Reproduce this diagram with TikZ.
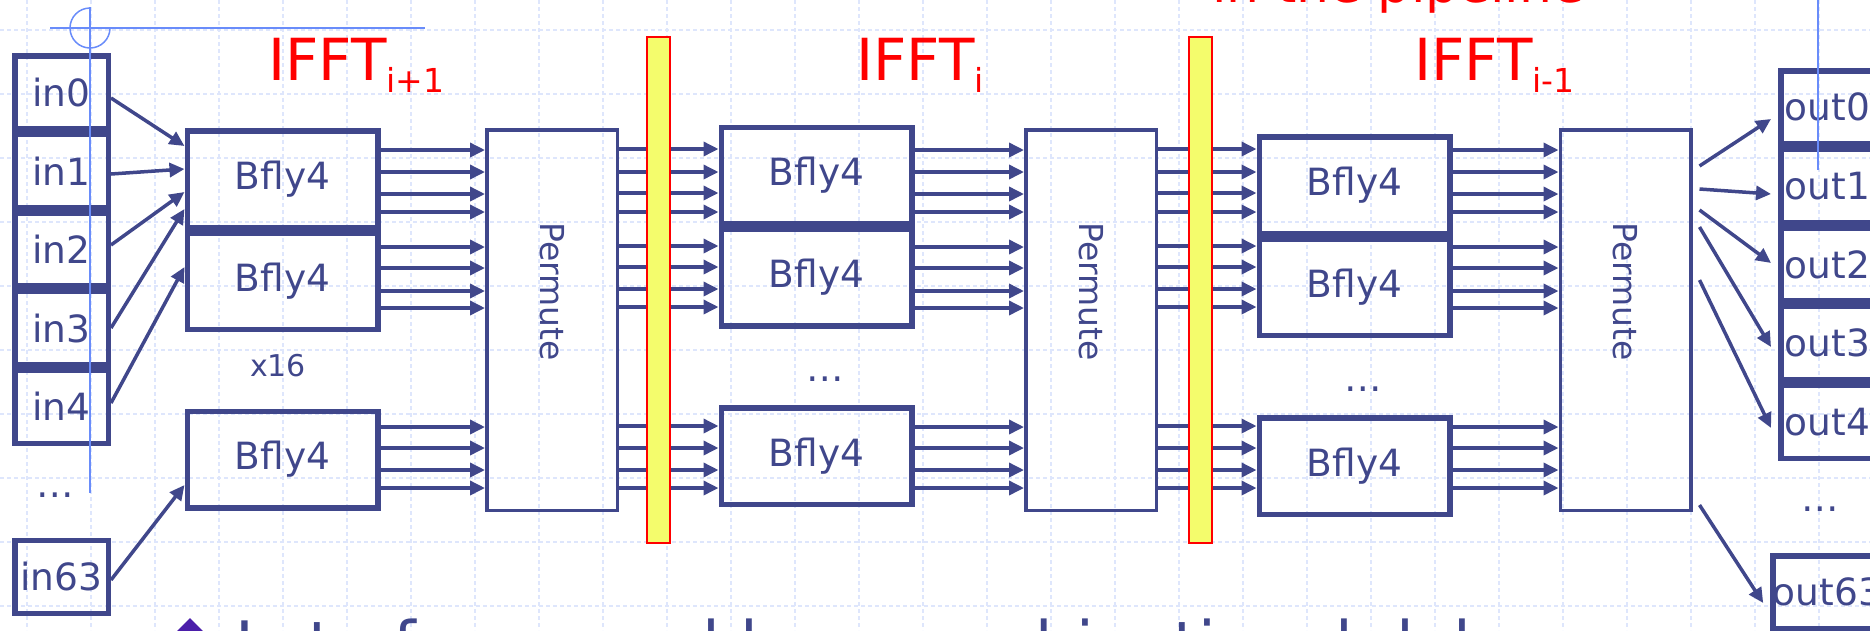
\documentclass[tikz,border=0pt]{standalone}
\usepackage{fontspec}
\setmainfont{DejaVu Sans}
\usetikzlibrary{arrows.meta,calc,positioning}
\definecolor{ink}{RGB}{64,71,139}
\definecolor{gridblue}{RGB}{222,230,252}
\definecolor{guideblue}{RGB}{105,140,250}
\definecolor{regyellow}{RGB}{244,252,108}
\definecolor{bulletpurple}{RGB}{75,30,170}
\newcommand{\boxfont}{\fontsize{37.5}{44}\selectfont}
\newcommand{\titlefont}{\fontsize{58}{64}\selectfont}
\newcommand{\subfont}{\fontsize{33}{38}\selectfont}
\tikzset{
  cell/.style={draw=ink, line width=5.5pt, minimum width=93.5pt, minimum height=73.1pt, inner sep=0pt, text=ink, font=\boxfont},
  bfly/.style={draw=ink, line width=5.5pt, minimum width=190.5pt, minimum height=96.5pt, inner sep=0pt, text=ink, font=\boxfont},
  permute/.style={draw=ink, line width=3.5pt, minimum width=130.5pt, minimum height=380.5pt, inner sep=0pt},
  permute text/.style={rotate=-90, text=ink, font=\fontsize{33}{38}\selectfont, inner sep=0pt},
  register/.style={draw=red, fill=regyellow, line width=2pt, minimum width=23pt, minimum height=506pt, inner sep=0pt},
  wire/.style={draw=ink, line width=3.5pt, -{Triangle[length=15pt,width=14pt]}},
  gap dots/.style={text=ink, font=\boxfont, inner sep=0pt},
  stage label/.style={text=red, font=\titlefont, inner sep=0pt, anchor=base west},
  gridline/.style={gridblue, line width=1.2pt, dash pattern=on 4pt off 3pt},
  guide/.style={guideblue, line width=1.5pt},
}

\begin{document}
\begin{tikzpicture}[x=1pt, y=-1pt]
  \useasboundingbox (0,0) rectangle (1870,630);
  \clip (0,0) rectangle (1870,630);

  % Slide grid
  \foreach \i in {0,...,28}
    \draw[gridline] (27+64*\i,0) -- (27+64*\i,630);
  \foreach \j in {0,...,9}
    \draw[gridline] (0,30+64*\j) -- (1870,30+64*\j);

  % Inputs
  \node[cell] (in0) at (61.5,92.3) {in0};
  \node[cell, below=0pt of in0] (in1) {in1};
  \node[cell, below=0pt of in1] (in2) {in2};
  \node[cell, below=0pt of in2] (in3) {in3};
  \node[cell, below=0pt of in3] (in4) {in4};
  \node[gap dots] (indots) at (55,495) {…};
  \node[cell] (in63) at (61.5,577) {in63};

  % Butterfly stages
  \node[bfly] (b11) at (282.5,179) {Bfly4};
  \node[bfly, below=0pt of b11] (b12) {Bfly4};
  \node[bfly] (b13) at (282.5,459.5) {Bfly4};
  \node[gap dots, font=\fontsize{30}{36}\selectfont] (count) at (278,366) {x16};

  \node[bfly] (b21) at (816.5,175.5) {Bfly4};
  \node[bfly, below=0pt of b21] (b22) {Bfly4};
  \node[bfly] (b23) at (816.5,456) {Bfly4};
  \node[gap dots] (dots2) at (825,379) {…};

  \node[bfly] (b31) at (1354.5,185) {Bfly4};
  \node[bfly, below=0pt of b31] (b32) {Bfly4};
  \node[bfly] (b33) at (1354.5,466) {Bfly4};
  \node[gap dots] (dots3) at (1363,389) {…};

  % Permutations
  \node[permute] (p1) at (552,320) {};
  \node[permute] (p2) at (1091,320) {};
  \node[permute] (p3) at (1625.5,320) {};
  \foreach \s in {1,2,3}
    \node[permute text] (p\s t) at ($(p\s.center)+(0,-28)$) {Permute};

  % Outputs
  \node[cell] (out0) at (1827.5,107.3) {out0};
  \node[cell, below=0pt of out0] (out1) {out1};
  \node[cell, below=0pt of out1] (out2) {out2};
  \node[cell, below=0pt of out2] (out3) {out3};
  \node[cell, below=0pt of out3] (out4) {out4};
  \node[gap dots] (outdots) at (1820,509) {…};
  \node[cell] (out63) at (1827.5,592.3) {out63};

  % Inputs to first stage
  \draw[wire] (in0.east |- 0,98) -- (b11.west |- 0,146);
  \draw[wire] (in1.east |- 0,174) -- (b11.west |- 0,169);
  \draw[wire] (in2.east |- 0,245) -- (b11.west |- 0,192);
  \draw[wire] (in3.east |- 0,328) -- (b11.west |- 0,209);
  \draw[wire] (in4.east |- 0,403) -- (b12.west |- 0,267);
  \draw[wire] (in63.east |- 0,580) -- (b13.west |- 0,485);

  % Bfly4 to Permute
  \foreach \s in {1,2,3}
    \foreach \k/\ys in {1/{150,172,194,212},2/{247,268,291,308},3/{427,448,470,488}}
      \foreach \y in \ys
        \draw[wire] (b\s\k.east |- 0,\y) -- (p\s.west |- 0,\y);

  % Permute to next stage
  \foreach \s/\t in {1/2,2/3}
    \foreach \k/\ys in {1/{149,172,193,212},2/{246,267,289,307},3/{426,448,470,488}}
      \foreach \y in \ys
        \draw[wire] (p\s.east |- 0,\y) -- (b\t\k.west |- 0,\y);

  % Pipeline registers
  \node[register] (r1) at (658.5,290) {};
  \node[register] (r2) at (1200.5,290) {};

  % Last Permute to outputs
  \foreach \k/\ya/\yb in {0/166/119,1/189/194,2/210/263,3/227/347,4/280/428,63/505/603}
    \draw[wire] ($(p3.east |- 0,\ya)+(7,0)$) -- ($(out\k.west |- 0,\yb)+(-7,0)$);

  % Labels
  \node[stage label] (l1) at (268,80) {IFFT\raisebox{-12pt}{\subfont i+1}};
  \node[stage label] (l2) at (856,80) {IFFT\raisebox{-12pt}{\subfont i}};
  \node[stage label] (l3) at (1414,80) {IFFT\raisebox{-12pt}{\subfont i-1}};
  \node[stage label, font=\fontsize{52}{60}\selectfont] (top) at (1212,2) {in the pipeline};

  % Bullet text
  \fill[bulletpurple] (190,618) -- (204,632) -- (190,646) -- (176,632) -- cycle;
  \node[gap dots, anchor=base west, font=\fontsize{64}{72}\selectfont] (note) at (235,667) {Lot of area and long combinational delay};

  % Guides
  \draw[guide] (50,28) -- (425,28);
  \draw[guide] (90,7) -- (90,493);
  \draw[guide] (90,8) arc[start angle=90, end angle=360, radius=20pt];
  \draw[guide] (1818,0) -- (1818,170);
\end{tikzpicture}
\end{document}
